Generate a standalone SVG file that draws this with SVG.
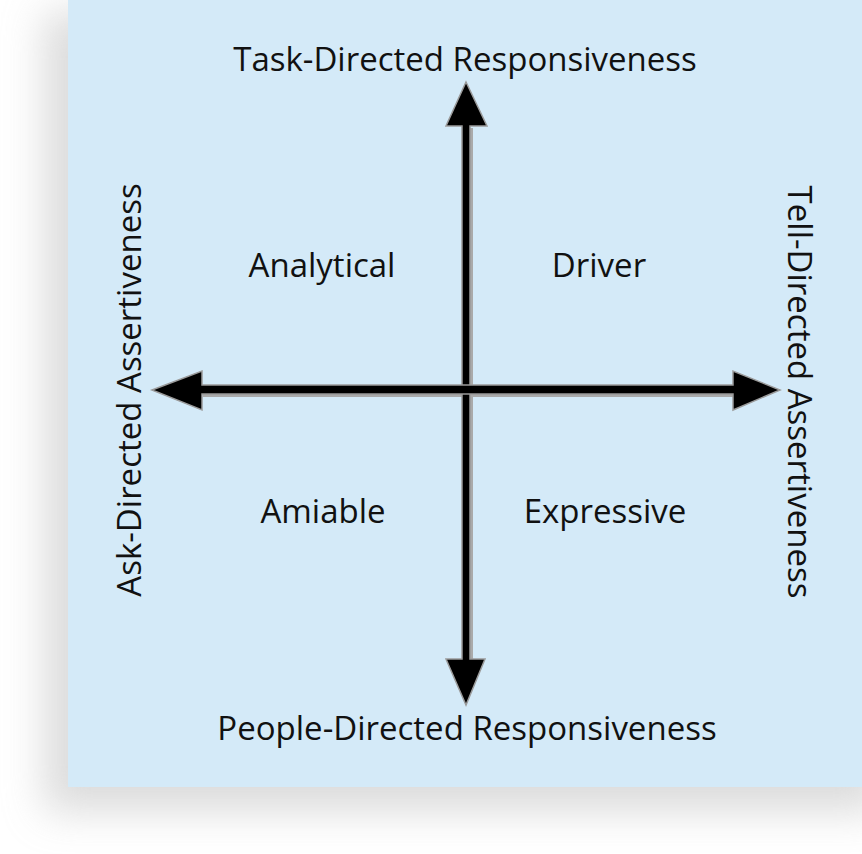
<svg xmlns="http://www.w3.org/2000/svg" width="862" height="854" viewBox="0 0 862 854">
<defs>
<filter id="sh" x="-20%" y="-20%" width="140%" height="140%">
<feGaussianBlur stdDeviation="20"/>
</filter>
<style>
text{font-family:"Open Sans","Noto Sans","Liberation Sans",sans-serif;fill:#111;font-size:33px;text-anchor:middle}
</style>
</defs>
<rect width="862" height="854" fill="#fff"/>
<rect x="44" y="12" width="838" height="800" fill="#c4c4c4" filter="url(#sh)" opacity="0.6"/>
<rect x="68" y="0" width="794" height="787" fill="#d4eaf8"/>
<g id="connectors">
<g fill="#aaa" transform="translate(3,4)">
<rect x="462" y="124" width="8" height="535"/>
<rect x="200" y="385" width="535" height="8"/>
</g>
<g fill="#000" stroke="#9a9a9a" stroke-width="1.5">
<polygon points="466,82 487,126 470,126 470,659 485,659 466,705 446,659 462,659 462,126 446,126"/>
<polygon points="152,390 202,371 202,385 733,385 733,371 780,390 733,410 733,394 202,394 202,410"/>
</g>
</g>
<g id="top"><text x="465" y="71">Task-Directed Responsiveness</text></g>
<g id="bottom"><text x="467" y="740">People-Directed Responsiveness</text></g>
<g id="left"><text transform="translate(141,390) rotate(-90)">Ask-Directed Assertiveness</text></g>
<g id="right"><text transform="translate(788,392) rotate(90)">Tell-Directed Assertiveness</text></g>
<g id="analytical"><text x="322" y="277">Analytical</text></g>
<g id="driver"><text x="599" y="277">Driver</text></g>
<g id="amiable"><text x="323" y="523">Amiable</text></g>
<g id="expressive"><text x="605" y="523">Expressive</text></g>
</svg>
